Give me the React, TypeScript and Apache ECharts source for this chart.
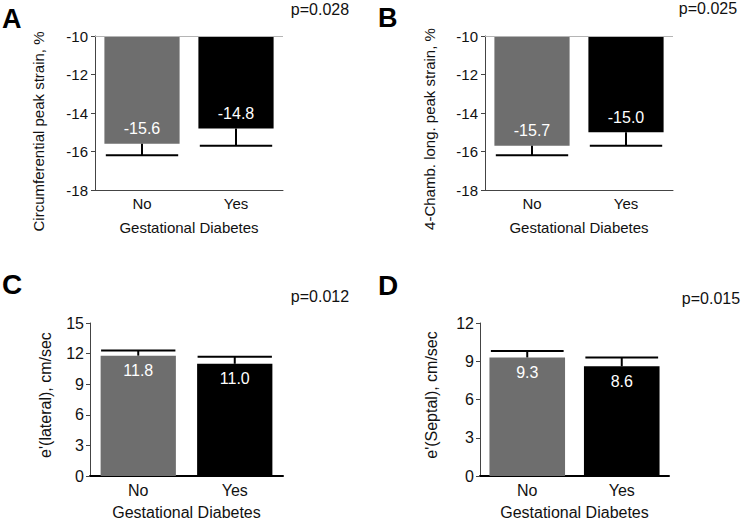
import React, { useEffect, useRef } from "react";
import * as echarts from "echarts";

const categories = ["No", "Yes"];

const panelLetters = ["A", "B", "C", "D"];
const pValues = ["p=0.028", "p=0.025", "p=0.012", "p=0.015"];
const yNames = [
  "Circumferential peak strain, %",
  "4-Chamb. long. peak strain, %",
  "e'(lateral), cm/sec",
  "e'(Septal), cm/sec",
];
const xName = "Gestational Diabetes";

const meansA = [-15.6, -14.8];
const errEndA = [-16.2, -15.7];
const meansB = [-15.7, -15.0];
const errEndB = [-16.2, -15.7];
const meansC = [11.8, 11.0];
const errEndC = [12.3, 11.7];
const meansD = [9.3, 8.6];
const errEndD = [9.8, 9.3];

const yMin = [-18, -18, 0, 0];
const yMax = [-10, -10, 15, 12];
const yInterval = [2, 2, 3, 3];

const barColors = ["#6e6e6e", "#000000"];
const FONT = "Arial, 'Liberation Sans', sans-serif";

export default function App() {
  const ref = useRef<HTMLDivElement>(null);
  useEffect(() => {
    if (!ref.current) return;
    const chart = echarts.init(ref.current, null, { renderer: "svg" });

    const grids = [
      { left: 95, top: 36, width: 188, height: 154 },
      { left: 485, top: 36, width: 188, height: 154 },
      { left: 90, top: 323, width: 193, height: 154 },
      { left: 480, top: 323, width: 189, height: 154 },
    ];
    const means = [meansA, meansB, meansC, meansD];
    const errs = [errEndA, errEndB, errEndC, errEndD];
    const upper = [true, true, false, false];
    const fs = [15, 15, 16, 16];
    const gaps = ["20%", "20%", "22%", "20%"];

    const xAxis: any[] = [];
    const yAxis: any[] = [];
    const series: any[] = [];

    grids.forEach((g, i) => {
      xAxis.push({
        type: "category",
        gridIndex: i,
        data: categories,
        name: xName,
        nameLocation: "middle",
        nameGap: upper[i] ? 30 : 28,
        nameTextStyle: { fontFamily: FONT, fontSize: fs[i], color: "#111" },
        axisLine: {
          onZero: false,
          lineStyle: { color: upper[i] ? "#444" : "#000", width: upper[i] ? 1 : 2 },
        },
        axisTick: { show: false },
        axisLabel: { fontFamily: FONT, fontSize: fs[i], color: "#111", margin: 6 },
        splitLine: { show: false },
      });
      yAxis.push({
        type: "value",
        gridIndex: i,
        min: yMin[i],
        max: yMax[i],
        interval: yInterval[i],
        axisLine: { show: true, lineStyle: { color: "#444", width: 1 } },
        axisTick: { show: true, length: 4, lineStyle: { color: "#444" } },
        axisLabel: { fontFamily: FONT, fontSize: fs[i], color: "#111", margin: upper[i] ? 7 : 6 },
        splitLine: { show: false },
      });
      const barData = means[i].map((v, k) => ({
        value: v,
        itemStyle: { color: barColors[k] },
      }));
      const bar: any = {
        type: "bar",
        xAxisIndex: i,
        yAxisIndex: i,
        data: barData,
        barCategoryGap: gaps[i],
        clip: true,
        label: {
          show: true,
          position: upper[i] ? "insideBottom" : "insideTop",
          distance: 7,
          color: "#fff",
          fontFamily: FONT,
          fontSize: 16,
          formatter: (p: any) => Number(p.value).toFixed(1),
        },
      };
      if (upper[i]) {
        bar.markLine = {
          silent: true,
          symbol: "none",
          label: { show: false },
          lineStyle: { color: "#b5b5b5", width: 1, type: "solid" },
          data: [{ yAxis: yMax[i] }],
        };
      }
      series.push(bar);
      series.push({
        type: "custom",
        xAxisIndex: i,
        yAxisIndex: i,
        z: 5,
        encode: { x: 0, y: [1, 2] },
        data: means[i].map((v, k) => [k, v, errs[i][k]]),
        renderItem: (params: any, api: any) => {
          const cat = api.value(0);
          const v = api.value(1);
          const e = api.value(2);
          const p1 = api.coord([cat, v]);
          const p2 = api.coord([cat, e]);
          const half = api.size([1, 0])[0] * 0.385;
          return {
            type: "group",
            children: [
              {
                type: "line",
                shape: { x1: p1[0], y1: p1[1], x2: p2[0], y2: p2[1] },
                style: { stroke: "#000", lineWidth: 2 },
              },
              {
                type: "line",
                shape: { x1: p2[0] - half, y1: p2[1], x2: p2[0] + half, y2: p2[1] },
                style: { stroke: "#000", lineWidth: 2 },
              },
            ],
          };
        },
      });
    });

    const letterPos = [
      [2, 18.5],
      [378, 18],
      [2, 284.5],
      [378, 285],
    ];
    const pPos = [
      [320, 9],
      [708, 8],
      [320, 296],
      [711, 298],
    ];
    const yNamePos = [
      [38, 131.5],
      [429.5, 129],
      [45, 395],
      [431, 395],
    ];
    const graphic: any[] = [];
    for (let i = 0; i < 4; i++) {
      graphic.push({
        type: "text",
        x: letterPos[i][0],
        y: letterPos[i][1],
        style: {
          text: panelLetters[i],
          font: `bold ${upper[i] ? 27 : 28}px ${FONT}`,
          fill: "#000",
          textAlign: "left",
          textVerticalAlign: "middle",
        },
      });
      graphic.push({
        type: "text",
        x: pPos[i][0],
        y: pPos[i][1],
        style: {
          text: pValues[i],
          font: `16px ${FONT}`,
          fill: "#111",
          textAlign: "center",
          textVerticalAlign: "middle",
        },
      });
      graphic.push({
        type: "text",
        x: yNamePos[i][0],
        y: yNamePos[i][1],
        rotation: Math.PI / 2,
        style: {
          text: yNames[i],
          font: `${upper[i] ? 15 : 16}px ${FONT}`,
          fill: "#111",
          textAlign: "center",
          textVerticalAlign: "middle",
        },
      });
    }

    chart.setOption({
      animation: false,
      backgroundColor: "#fff",
      grid: grids,
      xAxis,
      yAxis,
      series,
      graphic,
    });
    return () => chart.dispose();
  }, []);
  return (
    <div
      ref={ref}
      style={{ position: "fixed", left: 0, top: 0, width: 742, height: 521, background: "#fff" }}
    />
  );
}
